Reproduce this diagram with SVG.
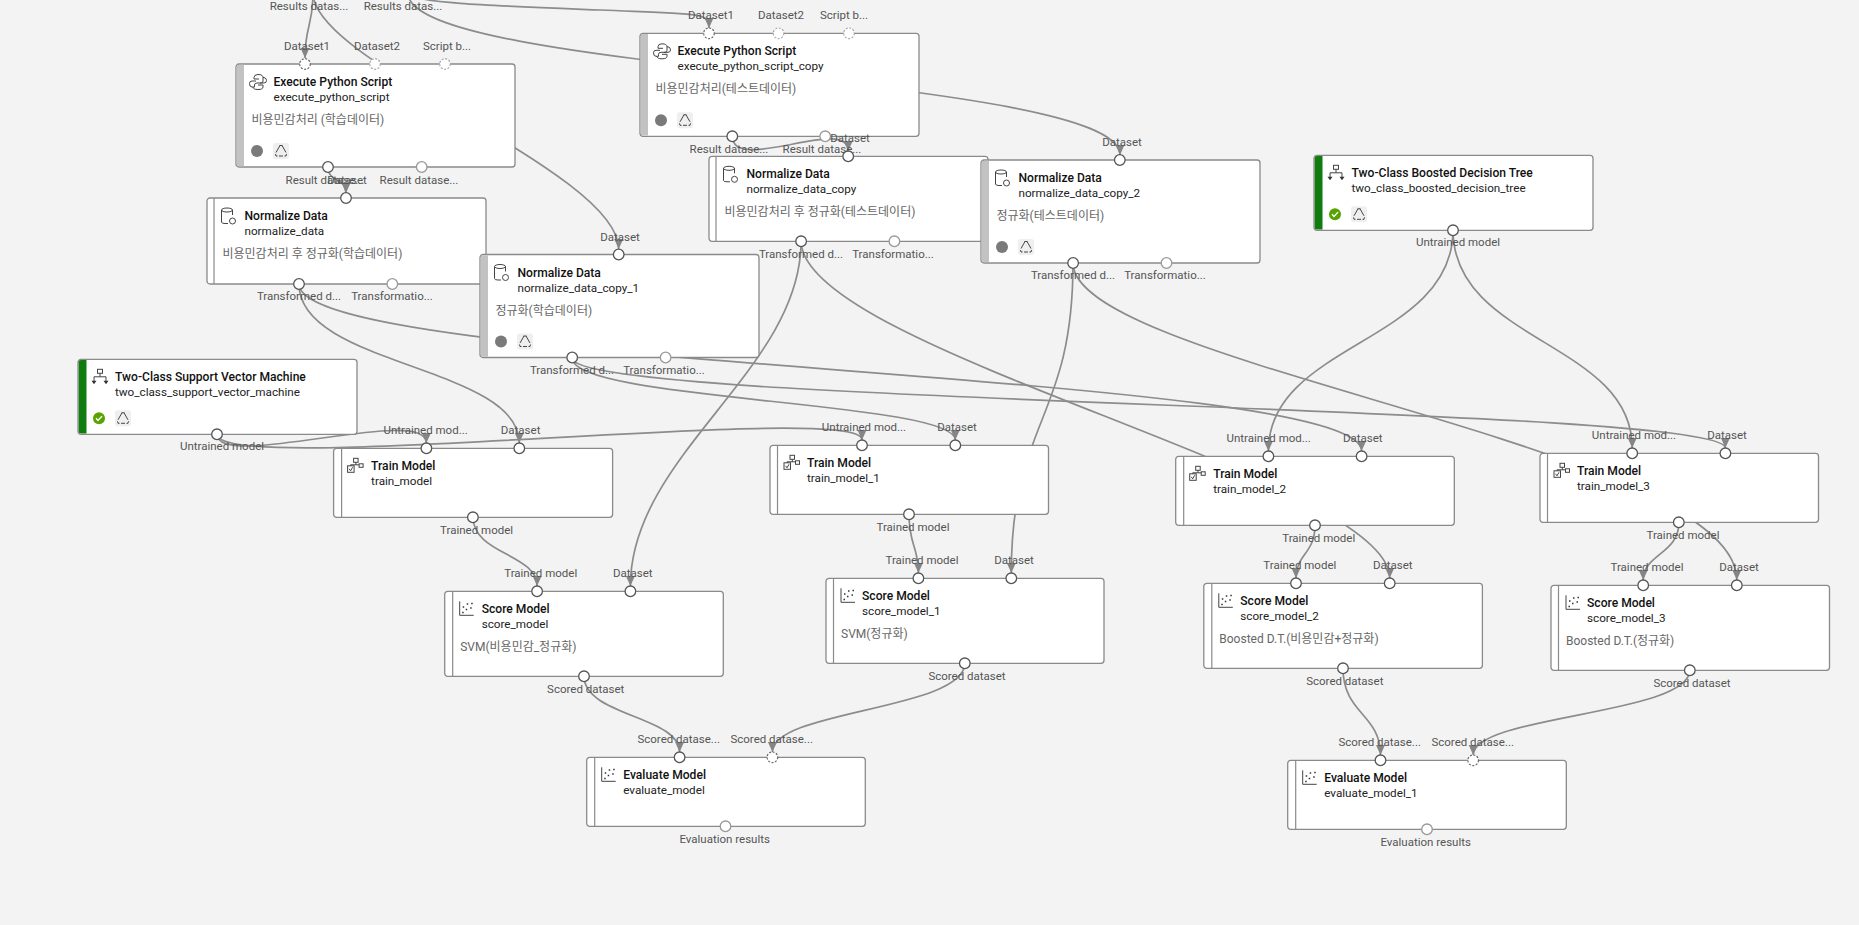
<svg xmlns="http://www.w3.org/2000/svg" width="1859" height="925" viewBox="0 0 1859 925">
<style>
text{font-family:Roboto,"Noto Sans CJK KR",sans-serif;font-size:12px}
.card{fill:#fff;stroke:#8a8a8a;stroke-width:1.3}
.bar{fill:#c2c2c2}
.green{fill:#107c10}
.sep{stroke:#8a8a8a;stroke-width:1.2}
.t{font-weight:500;fill:#111;font-size:12.100px}
.s{fill:#222;font-size:11.700px}
.c{fill:#666;font-size:12px}
.l{fill:#555;text-anchor:middle;font-size:11.500px}
.p{fill:#fff;stroke:#555;stroke-width:1.3}
.u{fill:#fff;stroke:#999;stroke-width:1.3}
.o{fill:#fff;stroke:#666;stroke-width:1.2;stroke-dasharray:2 1.500}
.q{fill:#fff;stroke:#aaa;stroke-width:1.2;stroke-dasharray:2 1.500}
.e{fill:none;stroke:#8c8c8c;stroke-width:1.7}
.a{marker-end:url(#ah)}
.i{fill:none;stroke:#444;stroke-width:1}
</style>
<defs>
<marker id="ah" markerUnits="userSpaceOnUse" markerWidth="11" markerHeight="10" refX="10" refY="4.500" orient="auto"><path d="M0,0L10,4.500L0,9z" fill="#858585"/></marker>
<g id="py"><path class="i" d="M-2,-1H-6Q-8.500,-1-8.500,1.500Q-8.500,5-6,5H-3.500V3Q-3.500,1-1,1H3Q5,1 5,-1V-4.500Q5,-7.500 0,-7.500Q-4,-7.500-4,-4.500V-3H1M2,1H6Q8.500,1 8.500,-1.500T6,-4.500H5M-5,5V5Q-5,7.500 0,7.500Q5,7.500 5,5V3H0"/></g>
<g id="db"><ellipse class="i" cx="-2" cy="-6" rx="5.500" ry="2"/><path class="i" d="M-7.500,-6V6Q-7.500,7.500-4,7.500H-1M3.500,-6V-1"/><circle class="i" cx="3.500" cy="5" r="3" stroke-width="1.600"/></g>
<g id="tr"><rect class="i" x="-2.500" y="-8" width="5" height="4"/><path class="i" d="M0,-4V-.5M-6,4V-.5H6V4"/><path d="M-8.500,3.500H-3.500L-6,7zM3.500,3.500H8.500L6,7z" fill="#333"/></g>
<g id="tm"><rect class="i" x="-2" y="-8" width="4.500" height="4"/><rect class="i" x="3.500" y="-2.500" width="4" height="3.500"/><rect class="i" x="-8" y="-.5" width="6.500" height="6.500"/><path class="i" d="M.3,-4V-1.500M-5,-.5V-1.500H3.500M-6.500,2.500L-5,4.500L-3,1"/></g>
<g id="sm"><path class="i" d="M-7,-8V6H7"/><path d="M-4,-3h1.500v1.500h-1.500zM0,-6h1.500v1.500h-1.500zM3.500,-2h1.500v1.500h-1.500zM-1,-.5h1.500v1.500h-1.500zM-4.500,2.500h1.500v1.500h-1.500zM4.500,-6.500h1.500v1.500h-1.500z" fill="#333"/></g>
<g id="rc"><rect x="-8" y="-8" width="16" height="16" rx="2.500" fill="#efefef"/><path d="M-1,-5.500L-5,1.500M1,-5.500L5,1.500M-2,5H2M-5.500,3L-5,5H-3.500M5.500,3L5,5H3.500M-1.500,-5.500H1.500" fill="none" stroke="#333" stroke-width=".9"/></g>
<g id="ok"><circle r="6" fill="#57a300"/><path d="M-3,0L-1,2.200L3,-2.200" fill="none" stroke="#fff" stroke-width="1.400"/></g>
<circle id="gd" r="6" fill="#7a7a7a"/>
</defs>
<rect width="1859" height="925" fill="#f3f3f3"/>
<g id="connectors">
<path class="e a" d="M313,-7C313,26 305,26 305,58"/>
<path class="e a" d="M313,-7C313,63 618.700,171 618.700,249"/>
<path class="e a" d="M408,-7C408,3 500,6 600,10S709,12 709,28"/>
<path class="e a" d="M408,-7C408,74 1120,74 1120,155"/>
<path class="e a" d="M328,167C328,183 346,177 346,193"/>
<path class="e a" d="M732.300,136C732.300,175 848.200,115 848.200,151"/>
<path class="e a" d="M299,284C299,366 519.300,366 519.300,443"/>
<path class="e a" d="M299,284C299,370 1361.600,370 1361.600,451"/>
<path class="e a" d="M572.200,358C572.200,401 955.300,401 955.300,440"/>
<path class="e a" d="M572.200,358C572.200,405 1725.400,405 1725.400,448"/>
<path class="e a" d="M217,434C217,472 426.400,404 426.400,443"/>
<path class="e a" d="M217,434C217,478 862,400 862,440"/>
<path class="e a" d="M1453,230C1453,343 1268.400,343 1268.400,451"/>
<path class="e a" d="M1453,230C1453,342 1632.200,342 1632.200,448"/>
<path class="e a" d="M801.100,241C801.100,370 630.400,455 630.400,586"/>
<path class="e a" d="M801.100,241C801.100,350 1389.700,477 1389.700,578"/>
<path class="e a" d="M1073,263C1073,420 1011.300,420 1011.300,573"/>
<path class="e a" d="M1073,263C1073,365 1736.800,445 1736.800,580"/>
<path class="e a" d="M473,517C473,554 537.100,554 537.100,586"/>
<path class="e a" d="M909,514C909,546 918.400,546 918.400,573"/>
<path class="e a" d="M1315,525C1315,554 1296,554 1296,578"/>
<path class="e a" d="M1679,522C1679,554 1643.200,554 1643.200,580"/>
<path class="e a" d="M584,676C584,716 679.600,716 679.600,752"/>
<path class="e a" d="M964.800,663C964.800,710 772.400,710 772.400,752"/>
<path class="e a" d="M1343,668C1343,714 1380.500,714 1380.500,755"/>
<path class="e a" d="M1689.800,670C1689.800,715 1473.200,715 1473.200,755"/>
</g>
<g id="source-labels"><text class="l" x="309" y="10">Results datas...</text><text class="l" x="403" y="10">Results datas...</text></g>
<g id="execute_python_script" transform="translate(236,64)">
<rect class="card" width="279" height="103" rx="3"/><path class="bar" d="M.7,3Q.7,.7 3,.7H8V102.300H3Q.7,102.300 .7,100z"/>
<use href="#py" x="22" y="18"/><text class="t" x="37.500" y="22">Execute Python Script</text><text class="s" x="37.500" y="37">execute_python_script</text><text class="c" x="15.500" y="60">비용민감처리 (학습데이터)</text>
<use href="#gd" x="21" y="87"/><use href="#rc" x="45" y="87"/>
<circle class="o" cx="69" r="5.300"/><circle class="q" cx="139" r="5.300"/><circle class="q" cx="209" r="5.300"/><circle class="p" cx="92" cy="103" r="5.300"/><circle class="u" cx="185.700" cy="103" r="5.300"/>
<text class="l" x="71" y="-14">Dataset1</text><text class="l" x="141" y="-14">Dataset2</text><text class="l" x="211" y="-14">Script b...</text><text class="l" x="89" y="120">Result datase...</text><text class="l" x="183" y="120">Result datase...</text>
</g>
<g id="normalize_data" transform="translate(207,198)">
<rect class="card" width="279" height="86" rx="3"/><path class="sep" d="M7,0V86"/>
<use href="#db" x="22" y="18"/><text class="t" x="37.500" y="22">Normalize Data</text><text class="s" x="37.500" y="37">normalize_data</text><text class="c" x="15.500" y="60">비용민감처리 후 정규화(학습데이터)</text>
<circle class="p" cx="139" r="5.300"/><circle class="p" cx="92" cy="86" r="5.300"/><circle class="u" cx="185.300" cy="86" r="5.300"/>
<text class="l" x="140" y="-14">Dataset</text><text class="l" x="92" y="102">Transformed d...</text><text class="l" x="185" y="102">Transformatio...</text>
</g>
<g id="normalize_data_copy_1" transform="translate(480,254.500)">
<rect class="card" width="279" height="103" rx="3"/><path class="bar" d="M.7,3Q.7,.7 3,.7H8V102.300H3Q.7,102.300 .7,100z"/>
<use href="#db" x="22" y="18"/><text class="t" x="37.500" y="22">Normalize Data</text><text class="s" x="37.500" y="37">normalize_data_copy_1</text><text class="c" x="15.500" y="60">정규화(학습데이터)</text>
<use href="#gd" x="21" y="87"/><use href="#rc" x="45" y="87"/>
<circle class="p" cx="138.700" r="5.300"/><circle class="p" cx="92.200" cy="103" r="5.300"/><circle class="u" cx="185.600" cy="103" r="5.300"/>
<text class="l" x="140" y="-14">Dataset</text><text class="l" x="92" y="119">Transformed d...</text><text class="l" x="184" y="119">Transformatio...</text>
</g>
<g id="execute_python_script_copy" transform="translate(640,33.300)">
<rect class="card" width="279" height="103" rx="3"/><path class="bar" d="M.7,3Q.7,.7 3,.7H8V102.300H3Q.7,102.300 .7,100z"/>
<use href="#py" x="22" y="18"/><text class="t" x="37.500" y="22">Execute Python Script</text><text class="s" x="37.500" y="37">execute_python_script_copy</text><text class="c" x="15.500" y="60">비용민감처리(테스트데이터)</text>
<use href="#gd" x="21" y="87"/><use href="#rc" x="45" y="87"/>
<circle class="o" cx="69" r="5.300"/><circle class="q" cx="138.600" r="5.300"/><circle class="q" cx="209" r="5.300"/><circle class="p" cx="92.300" cy="103" r="5.300"/><circle class="u" cx="185.200" cy="103" r="5.300"/>
<text class="l" x="71" y="-14">Dataset1</text><text class="l" x="141" y="-14">Dataset2</text><text class="l" x="204" y="-14">Script b...</text><text class="l" x="89" y="120">Result datase...</text><text class="l" x="182" y="120">Result datase...</text>
</g>
<g id="normalize_data_copy" transform="translate(709,156.300)">
<rect class="card" width="279" height="85" rx="3"/><path class="sep" d="M7,0V85"/>
<use href="#db" x="22" y="18"/><text class="t" x="37.500" y="22">Normalize Data</text><text class="s" x="37.500" y="37">normalize_data_copy</text><text class="c" x="15.500" y="60">비용민감처리 후 정규화(테스트데이터)</text>
<circle class="p" cx="139.200" r="5.300"/><circle class="p" cx="92.100" cy="85" r="5.300"/><circle class="u" cx="185.400" cy="85" r="5.300"/>
<text class="l" x="141" y="-14">Dataset</text><text class="l" x="92" y="102">Transformed d...</text><text class="l" x="184" y="102">Transformatio...</text>
</g>
<g id="normalize_data_copy_2" transform="translate(981,160)">
<rect class="card" width="279" height="103" rx="3"/><path class="bar" d="M.7,3Q.7,.7 3,.7H8V102.300H3Q.7,102.300 .7,100z"/>
<use href="#db" x="22" y="18"/><text class="t" x="37.500" y="22">Normalize Data</text><text class="s" x="37.500" y="37">normalize_data_copy_2</text><text class="c" x="15.500" y="60">정규화(테스트데이터)</text>
<use href="#gd" x="21" y="87"/><use href="#rc" x="45" y="87"/>
<circle class="p" cx="138.800" r="5.300"/><circle class="p" cx="92.100" cy="103" r="5.300"/><circle class="u" cx="185.500" cy="103" r="5.300"/>
<text class="l" x="141" y="-14">Dataset</text><text class="l" x="92" y="119">Transformed d...</text><text class="l" x="184" y="119">Transformatio...</text>
</g>
<g id="two_class_boosted_decision_tree" transform="translate(1314,155.300)">
<rect class="card" width="279" height="75" rx="3"/><path class="green" d="M.7,3Q.7,.7 3,.7H8.500V74.300H3Q.7,74.300 .7,72z"/>
<use href="#tr" x="22" y="18"/><text class="t" x="37.500" y="22">Two-Class Boosted Decision Tree</text><text class="s" x="37.500" y="37">two_class_boosted_decision_tree</text>
<use href="#ok" x="21" y="59"/><use href="#rc" x="45" y="59"/>
<circle class="p" cx="139" cy="75" r="5.300"/><text class="l" x="144" y="91">Untrained model</text>
</g>
<g id="two_class_support_vector_machine" transform="translate(78,359.300)">
<rect class="card" width="279" height="75" rx="3"/><path class="green" d="M.7,3Q.7,.7 3,.7H8.500V74.300H3Q.7,74.300 .7,72z"/>
<use href="#tr" x="22" y="18"/><text class="t" x="37" y="22">Two-Class Support Vector Machine</text><text class="s" x="37" y="37">two_class_support_vector_machine</text>
<use href="#ok" x="21" y="59"/><use href="#rc" x="45" y="59"/>
<circle class="p" cx="139" cy="75" r="5.300"/><text class="l" x="144" y="91">Untrained model</text>
</g>
<g id="train_model" transform="translate(333.600,448.300)">
<rect class="card" width="279" height="69" rx="3"/><path class="sep" d="M8,0V69"/>
<use href="#tm" x="22" y="18"/><text class="t" x="37.500" y="22">Train Model</text><text class="s" x="37.500" y="37">train_model</text>
<circle class="p" cx="92.800" r="5.300"/><circle class="p" cx="185.700" r="5.300"/><circle class="p" cx="139.300" cy="69" r="5.300"/>
<text class="l" x="92" y="-14">Untrained mod...</text><text class="l" x="187" y="-14">Dataset</text><text class="l" x="143" y="86">Trained model</text>
</g>
<g id="train_model_1" transform="translate(770,445.300)">
<rect class="card" width="278.500" height="69" rx="3"/><path class="sep" d="M7.500,0V69"/>
<use href="#tm" x="22" y="18"/><text class="t" x="37" y="22">Train Model</text><text class="s" x="37" y="37">train_model_1</text>
<circle class="p" cx="92" r="5.300"/><circle class="p" cx="185.300" r="5.300"/><circle class="p" cx="139" cy="69" r="5.300"/>
<text class="l" x="94" y="-14">Untrained mod...</text><text class="l" x="187" y="-14">Dataset</text><text class="l" x="143" y="86">Trained model</text>
</g>
<g id="train_model_2" transform="translate(1175.700,456.300)">
<rect class="card" width="278.600" height="69" rx="3"/><path class="sep" d="M8,0V69"/>
<use href="#tm" x="22" y="18"/><text class="t" x="37.500" y="22">Train Model</text><text class="s" x="37.500" y="37">train_model_2</text>
<circle class="p" cx="92.700" r="5.300"/><circle class="p" cx="185.900" r="5.300"/><circle class="p" cx="139.300" cy="69" r="5.300"/>
<text class="l" x="93" y="-14">Untrained mod...</text><text class="l" x="187" y="-14">Dataset</text><text class="l" x="143" y="86">Trained model</text>
</g>
<g id="train_model_3" transform="translate(1540,453.300)">
<rect class="card" width="278.500" height="69" rx="3"/><path class="sep" d="M7.500,0V69"/>
<use href="#tm" x="22" y="18"/><text class="t" x="37" y="22">Train Model</text><text class="s" x="37" y="37">train_model_3</text>
<circle class="p" cx="92.200" r="5.300"/><circle class="p" cx="185.400" r="5.300"/><circle class="p" cx="138.800" cy="69" r="5.300"/>
<text class="l" x="94" y="-14">Untrained mod...</text><text class="l" x="187" y="-14">Dataset</text><text class="l" x="143" y="86">Trained model</text>
</g>
<g id="score_model" transform="translate(444.700,591.300)">
<rect class="card" width="278.600" height="85" rx="3"/><path class="sep" d="M8,0V85"/>
<use href="#sm" x="22" y="18"/><text class="t" x="37" y="22">Score Model</text><text class="s" x="37" y="37">score_model</text><text class="c" x="15.500" y="60">SVM(비용민감_정규화)</text>
<circle class="p" cx="92.400" r="5.300"/><circle class="p" cx="185.700" r="5.300"/><circle class="p" cx="139.300" cy="85" r="5.300"/>
<text class="l" x="96" y="-14">Trained model</text><text class="l" x="188" y="-14">Dataset</text><text class="l" x="141" y="102">Scored dataset</text>
</g>
<g id="score_model_1" transform="translate(826,578.300)">
<rect class="card" width="278" height="85" rx="3"/><path class="sep" d="M7.500,0V85"/>
<use href="#sm" x="22" y="18"/><text class="t" x="36" y="22">Score Model</text><text class="s" x="36" y="37">score_model_1</text><text class="c" x="15" y="60">SVM(정규화)</text>
<circle class="p" cx="92.400" r="5.300"/><circle class="p" cx="185.300" r="5.300"/><circle class="p" cx="138.800" cy="85" r="5.300"/>
<text class="l" x="96" y="-14">Trained model</text><text class="l" x="188" y="-14">Dataset</text><text class="l" x="141" y="102">Scored dataset</text>
</g>
<g id="score_model_2" transform="translate(1203.800,583.300)">
<rect class="card" width="278.600" height="85" rx="3"/><path class="sep" d="M8,0V85"/>
<use href="#sm" x="22" y="18"/><text class="t" x="36.500" y="22">Score Model</text><text class="s" x="36.500" y="37">score_model_2</text><text class="c" x="15.500" y="60">Boosted D.T.(비용민감+정규화)</text>
<circle class="p" cx="92.200" r="5.300"/><circle class="p" cx="185.900" r="5.300"/><circle class="p" cx="139.200" cy="85" r="5.300"/>
<text class="l" x="96" y="-14">Trained model</text><text class="l" x="189" y="-14">Dataset</text><text class="l" x="141" y="102">Scored dataset</text>
</g>
<g id="score_model_3" transform="translate(1551,585.300)">
<rect class="card" width="278.500" height="85" rx="3"/><path class="sep" d="M7.500,0V85"/>
<use href="#sm" x="22" y="18"/><text class="t" x="36" y="22">Score Model</text><text class="s" x="36" y="37">score_model_3</text><text class="c" x="15" y="60">Boosted D.T.(정규화)</text>
<circle class="p" cx="92.200" r="5.300"/><circle class="p" cx="185.800" r="5.300"/><circle class="p" cx="138.800" cy="85" r="5.300"/>
<text class="l" x="96" y="-14">Trained model</text><text class="l" x="188" y="-14">Dataset</text><text class="l" x="141" y="102">Scored dataset</text>
</g>
<g id="evaluate_model" transform="translate(586.700,757.300)">
<rect class="card" width="278.600" height="69" rx="3"/><path class="sep" d="M8,0V69"/>
<use href="#sm" x="22" y="18"/><text class="t" x="36.500" y="22">Evaluate Model</text><text class="s" x="36.500" y="37">evaluate_model</text>
<circle class="p" cx="92.900" r="5.300"/><circle class="o" cx="185.700" r="5.300"/><circle class="u" cx="138.800" cy="69" r="5.300"/>
<text class="l" x="92" y="-14">Scored datase...</text><text class="l" x="185" y="-14">Scored datase...</text><text class="l" x="138" y="86">Evaluation results</text>
</g>
<g id="evaluate_model_1" transform="translate(1287.700,760.300)">
<rect class="card" width="278.600" height="69" rx="3"/><path class="sep" d="M8,0V69"/>
<use href="#sm" x="22" y="18"/><text class="t" x="36.500" y="22">Evaluate Model</text><text class="s" x="36.500" y="37">evaluate_model_1</text>
<circle class="p" cx="92.800" r="5.300"/><circle class="o" cx="185.500" r="5.300"/><circle class="u" cx="139.300" cy="69" r="5.300"/>
<text class="l" x="92" y="-14">Scored datase...</text><text class="l" x="185" y="-14">Scored datase...</text><text class="l" x="138" y="86">Evaluation results</text>
</g>
</svg>
